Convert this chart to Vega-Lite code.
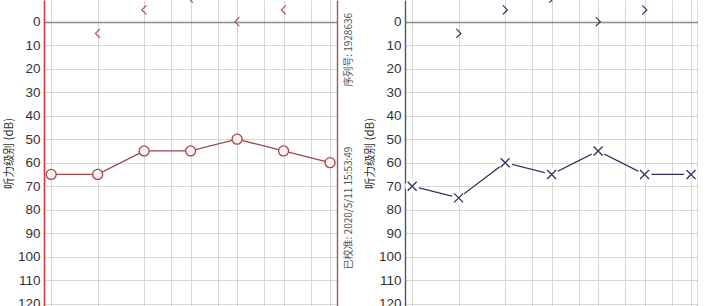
{
  "$schema": "https://vega.github.io/schema/vega-lite/v6.json",
  "background": "white",
  "padding": {"left": 3, "top": 0, "right": 0, "bottom": 0},
  "autosize": {"type": "pad"},
  "spacing": 68,
  "bounds": "flush",
  "config": {
    "view": {"stroke": null},
    "font": "Liberation Sans",
    "axisY": {
      "labelFont": "Liberation Sans", "labelFontSize": 13.5, "labelColor": "#333333",
      "labelFlush": false, "labelOverlap": false, "labelBound": false,
      "ticks": false, "labelPadding": 4,
      "titleFont": "Noto Sans CJK SC", "titleFontSize": 11.5, "titleFontWeight": "normal",
      "titleColor": "#333333", "titlePadding": 3,
      "grid": true,
      "gridColor": {"condition": {"test": "datum.value === 0", "value": "#8c8c8c"}, "value": "#d6d6d6"},
      "gridWidth": {"condition": {"test": "datum.value === 0", "value": 1.5}, "value": 1}
    }
  },
  "datasets": {
    "right_air": [
      {"freq": 125, "db": 65}, {"freq": 250, "db": 65}, {"freq": 500, "db": 55},
      {"freq": 1000, "db": 55}, {"freq": 2000, "db": 50}, {"freq": 4000, "db": 55},
      {"freq": 8000, "db": 60}
    ],
    "right_bone": [
      {"freq": 250, "db": 5}, {"freq": 500, "db": -5}, {"freq": 1000, "db": -10},
      {"freq": 2000, "db": 0}, {"freq": 4000, "db": -5}
    ],
    "left_air": [
      {"freq": 125, "db": 70}, {"freq": 250, "db": 75}, {"freq": 500, "db": 60},
      {"freq": 1000, "db": 65}, {"freq": 2000, "db": 55}, {"freq": 4000, "db": 65},
      {"freq": 8000, "db": 65}
    ],
    "left_bone": [
      {"freq": 250, "db": 5}, {"freq": 500, "db": -5}, {"freq": 1000, "db": -10},
      {"freq": 2000, "db": 0}, {"freq": 4000, "db": -5}
    ],
    "notes": [
      {"note": "序列号: 1928636", "kind": "serial"},
      {"note": "已校准: 2020/5/11 15:53:49", "kind": "calib"}
    ]
  },
  "hconcat": [
    {
      "width": 293,
      "height": 306,
      "resolve": {"scale": {"y": "shared", "x": "shared"}, "axis": {"y": "independent"}},
      "layer": [
        {
          "data": {"name": "right_air"},
          "mark": {"type": "line", "color": "#a0464b", "strokeWidth": 1.3, "clip": true},
          "encoding": {
            "x": {"field": "freq", "type": "quantitative", "scale": {"type": "log", "domain": [112.3, 8879], "nice": false},
                  "axis": {"orient": "top", "values": [125, 250, 500, 750, 1000, 1500, 2000, 3000, 4000, 6000, 8000],
                           "labels": false, "ticks": false, "domain": false, "title": null,
                           "grid": true, "gridColor": "#d6d6d6", "gridWidth": 1}},
            "y": {"field": "db", "type": "quantitative",
                  "scale": {"domain": [-9.23, 121], "reverse": true, "nice": false, "zero": false},
                  "axis": {"orient": "left", "title": "听力级别 (dB)", "values": [0, 10, 20, 30, 40, 50, 60, 70, 80, 90, 100, 110, 120],
                           "domainColor": "#cc3d44", "domainWidth": 1.6}}
          }
        },
        {
          "data": {"name": "right_air"},
          "mark": {"type": "point", "shape": "circle", "size": 100, "filled": true, "fill": "#fdf3f3", "stroke": "#a0464b", "strokeWidth": 1.3, "opacity": 1, "clip": true},
          "encoding": {
            "x": {"field": "freq", "type": "quantitative"},
            "y": {"field": "db", "type": "quantitative",
                  "axis": {"orient": "right", "title": null, "labels": false, "grid": false, "values": [0],
                           "domainColor": "#9a5a5e", "domainWidth": 1.4}}
          }
        },
        {
          "data": {"name": "right_bone"},
          "mark": {"type": "point", "shape": "M0.5,-1L-0.5,0L0.5,1", "size": 81, "filled": false, "stroke": "#b04a55", "strokeWidth": 1.2, "opacity": 1, "clip": true},
          "encoding": {
            "x": {"field": "freq", "type": "quantitative"},
            "y": {"field": "db", "type": "quantitative", "axis": null}
          }
        },
        {
          "data": {"name": "notes"},
          "transform": [{"filter": "datum.kind === 'serial'"}],
          "mark": {"type": "text", "angle": 270, "align": "center", "baseline": "middle", "font": "Noto Sans CJK SC", "fontSize": 10, "color": "#555555"},
          "encoding": {
            "text": {"field": "note"},
            "x": {"datum": 10600},
            "y": {"datum": 12, "axis": null}
          }
        },
        {
          "data": {"name": "notes"},
          "transform": [{"filter": "datum.kind === 'calib'"}],
          "mark": {"type": "text", "angle": 270, "align": "center", "baseline": "middle", "font": "Noto Sans CJK SC", "fontSize": 10, "color": "#555555"},
          "encoding": {
            "text": {"field": "note"},
            "x": {"datum": 10600},
            "y": {"datum": 79.3, "axis": null}
          }
        }
      ]
    },
    {
      "width": 293,
      "height": 306,
      "resolve": {"scale": {"y": "shared", "x": "shared"}, "axis": {"y": "independent"}},
      "layer": [
        {
          "data": {"name": "left_air"},
          "mark": {"type": "line", "color": "#2e3160", "strokeWidth": 1.3, "clip": true},
          "encoding": {
            "x": {"field": "freq", "type": "quantitative", "scale": {"type": "log", "domain": [112.3, 8879], "nice": false},
                  "axis": {"orient": "top", "values": [125, 250, 500, 750, 1000, 1500, 2000, 3000, 4000, 6000, 8000],
                           "labels": false, "ticks": false, "domain": false, "title": null,
                           "grid": true, "gridColor": "#d6d6d6", "gridWidth": 1}},
            "y": {"field": "db", "type": "quantitative",
                  "scale": {"domain": [-9.23, 121], "reverse": true, "nice": false, "zero": false},
                  "axis": {"orient": "left", "title": "听力级别 (dB)", "values": [0, 10, 20, 30, 40, 50, 60, 70, 80, 90, 100, 110, 120],
                           "domainColor": "#555555", "domainWidth": 1.4}}
          }
        },
        {
          "data": {"name": "left_air"},
          "mark": {"type": "point", "shape": "circle", "size": 196, "filled": true, "fill": "white", "strokeWidth": 0, "opacity": 1, "clip": true},
          "encoding": {
            "x": {"field": "freq", "type": "quantitative"},
            "y": {"field": "db", "type": "quantitative",
                  "axis": {"orient": "right", "title": null, "labels": false, "grid": false, "values": [0],
                           "domainColor": "#555555", "domainWidth": 1.4}}
          }
        },
        {
          "data": {"name": "left_air"},
          "mark": {"type": "point", "shape": "M-1,-1L1,1M1,-1L-1,1", "size": 81, "filled": false, "stroke": "#2e3160", "strokeWidth": 1.3, "opacity": 1, "clip": true},
          "encoding": {
            "x": {"field": "freq", "type": "quantitative"},
            "y": {"field": "db", "type": "quantitative", "axis": null}
          }
        },
        {
          "data": {"name": "left_bone"},
          "mark": {"type": "point", "shape": "M-0.5,-1L0.5,0L-0.5,1", "size": 81, "filled": false, "stroke": "#2e3160", "strokeWidth": 1.2, "opacity": 1, "clip": true},
          "encoding": {
            "x": {"field": "freq", "type": "quantitative"},
            "y": {"field": "db", "type": "quantitative", "axis": null}
          }
        }
      ]
    }
  ]
}
